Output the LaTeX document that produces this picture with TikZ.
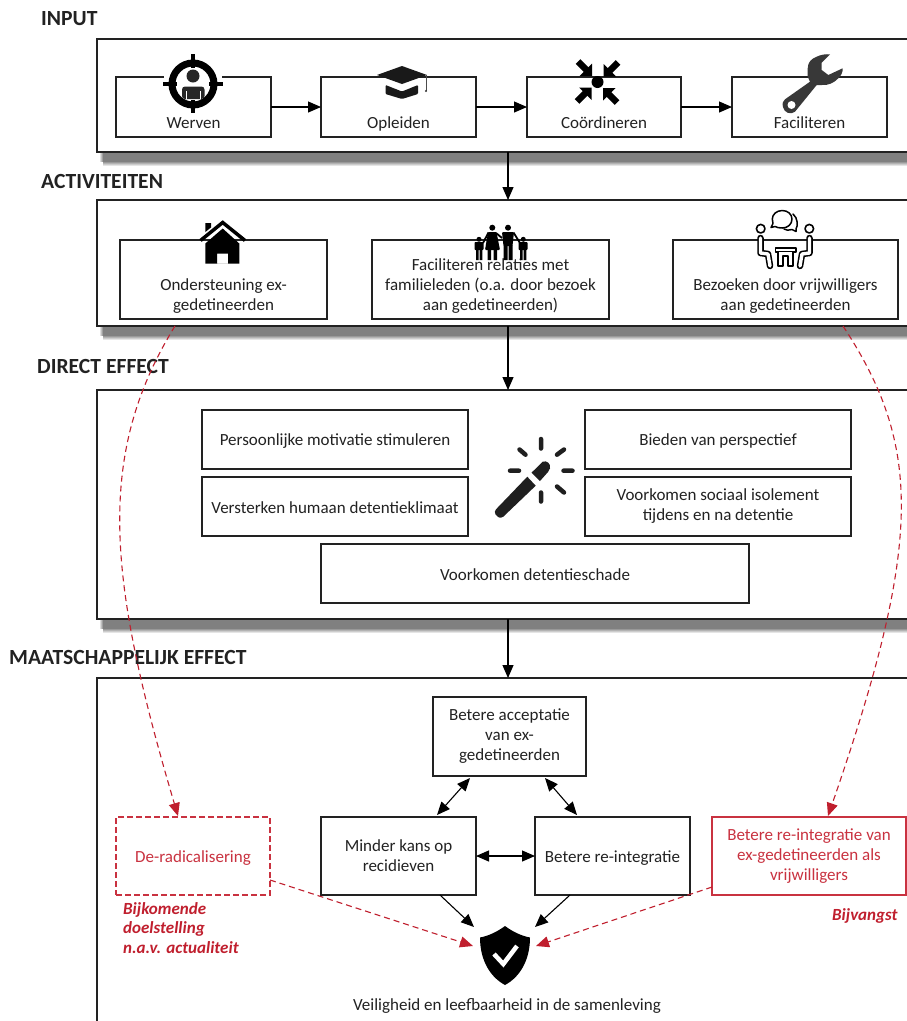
\documentclass[tikz,border=0pt]{standalone}
\usepackage{fontspec}
\setmainfont{Carlito}
\usetikzlibrary{arrows.meta,calc}
\definecolor{ink}{HTML}{222222}
\definecolor{redline}{HTML}{C01F2E}
\definecolor{redtext}{HTML}{C93240}
\definecolor{shadowgray}{HTML}{808080}
\tikzset{
  x=1pt,y=-1pt,
  outerbox/.style={draw=ink,line width=1.2pt,fill=white,anchor=north west,inner sep=0pt,outer sep=0pt},
  flowbox/.style={draw=ink,line width=1.1pt,fill=white,anchor=north west,inner sep=0pt,outer sep=0pt,align=center,text=ink,font=\fontsize{17}{20}\selectfont,execute at begin node={\rule{0pt}{15pt}}},
  redbox/.style={flowbox,draw=redtext,text=redtext},
  title/.style={anchor=west,inner sep=0pt,text=ink,font=\fontsize{21.6}{24}\selectfont\bfseries},
  note/.style={anchor=north west,inner sep=0pt,align=left,text=redline,font=\fontsize{17}{19.7}\selectfont\bfseries\itshape},
  plain/.style={inner sep=0pt,text=ink,font=\fontsize{17}{19.7}\selectfont},
  flow/.style={draw=black,line width=1.1pt,-{Triangle[length=13pt,width=11pt]}},
  biflow/.style={draw=black,line width=1.1pt,{Triangle[length=13pt,width=11pt]}-{Triangle[length=13pt,width=11pt]}},
  redflow/.style={draw=redline,line width=1.1pt,dash pattern=on 6pt off 4pt,-{Triangle[length=13pt,width=11pt]}},
}
\begin{document}
\begin{tikzpicture}
\useasboundingbox (0,0) rectangle (907,1021);
\clip (0,0) rectangle (907,1021);
% shadows
\foreach \y in {153,327,620}{
  \fill[shadowgray] (103,\y) rectangle (920,\y+8);
  \shade[top color=shadowgray,bottom color=white] (103,\y+8) rectangle (920,\y+13);
  \shade[left color=white,right color=shadowgray] (99,\y) rectangle (103,\y+8);
}
% outer boxes
\node[outerbox,minimum width=830pt,minimum height=113pt] (input) at (97,39) {};
\node[outerbox,minimum width=830pt,minimum height=126pt] (act) at (97,200) {};
\node[outerbox,minimum width=830pt,minimum height=229pt] (direct) at (97,390) {};
\node[outerbox,minimum width=830pt,minimum height=380pt] (maat) at (97,678) {};
% titles
\node[title] (t1) at (41,19) {INPUT};
\node[title] (t2) at (41,181) {ACTIVITEITEN};
\node[title] (t3) at (37,366) {DIRECT EFFECT};
\node[title] (t4) at (9,657) {MAATSCHAPPELIJK EFFECT};
% inner boxes
\node[flowbox,minimum width=155pt,minimum height=60pt] (werven) at (116,77) {\rule[-4pt]{0pt}{50pt}Werven};
\node[flowbox,minimum width=155pt,minimum height=60pt] (opleiden) at (321,77) {\rule[-4pt]{0pt}{50pt}Opleiden};
\node[flowbox,minimum width=154pt,minimum height=60pt] (coord) at (527,77) {\rule[-4pt]{0pt}{50pt}Coördineren};
\node[flowbox,minimum width=155pt,minimum height=60pt] (facil) at (732,77) {\rule[-4pt]{0pt}{50pt}Faciliteren};
\node[flowbox,minimum width=207pt,minimum height=79pt] (onder) at (120,240) {\rule{0pt}{44pt}Ondersteuning ex-\\gedetineerden};
\node[flowbox,minimum width=237pt,minimum height=79pt] (fam) at (372,240) {\rule{0pt}{24pt}Faciliteren relaties met\\familieleden (o.a. door bezoek\\aan gedetineerden)};
\node[flowbox,minimum width=225pt,minimum height=79pt] (bez) at (673,240) {\rule{0pt}{44pt}Bezoeken door vrijwilligers\\aan gedetineerden};
\node[flowbox,minimum width=266pt,minimum height=59pt] (pers) at (202,410) {Persoonlijke motivatie stimuleren};
\node[flowbox,minimum width=266pt,minimum height=59pt] (verst) at (202,477) {Versterken humaan detentieklimaat};
\node[flowbox,minimum width=266pt,minimum height=59pt] (persp) at (585,410) {Bieden van perspectief};
\node[flowbox,minimum width=266pt,minimum height=59pt] (isol) at (585,477) {Voorkomen sociaal isolement\\tijdens en na detentie};
\node[flowbox,minimum width=428pt,minimum height=59pt] (schade) at (321,544) {Voorkomen detentieschade};
\node[flowbox,minimum width=153pt,minimum height=79pt] (accept) at (433,697) {Betere acceptatie\\van ex-\\gedetineerden};
\node[flowbox,minimum width=155pt,minimum height=78pt] (recid) at (321,817) {Minder kans op\\recidieven};
\node[flowbox,minimum width=155pt,minimum height=78pt] (reint) at (535,817) {Betere re-integratie};
\node[redbox,minimum width=154pt,minimum height=78pt,dash pattern=on 6pt off 3pt] (derad) at (116,817) {De-radicalisering};
\node[redbox,minimum width=194pt,minimum height=78pt] (vrij) at (712,817) {Betere re-integratie van\\ex-gedetineerden als\\vrijwilligers};
\node[note] (n1) at (123,902) {Bijkomende\\doelstelling\\n.a.v. actualiteit};
\node[note] (n2) at (832,908) {Bijvangst};
\node[plain] (veilig) at (507,1006) {Veiligheid en leefbaarheid in de samenleving};
% connector ends
\coordinate (mid) at (508,0);
\coordinate (r1s) at (175,326);
\coordinate (r1e) at (178,816);
\coordinate (r2s) at (843,326);
\coordinate (r2e) at (828,816);
\coordinate (a1) at (470,778);
\coordinate (a2) at (437,815);
\coordinate (a3) at (545,778);
\coordinate (a4) at (577,815);
\coordinate (s1) at (440,895);
\coordinate (s2) at (474,927);
\coordinate (s3) at (570,895);
\coordinate (s4) at (535,927);
\coordinate (s5) at (270,880);
\coordinate (s6) at (473,946);
\coordinate (s7) at (712,887);
\coordinate (s8) at (536,946);
% connectors
\draw[flow] (werven.east) -- (opleiden.west);
\draw[flow] (opleiden.east) -- (coord.west);
\draw[flow] (coord.east) -- (facil.west);
\draw[flow] (input.south -| mid) -- (act.north -| mid);
\draw[flow] (act.south -| mid) -- (direct.north -| mid);
\draw[flow] (direct.south -| mid) -- (maat.north -| mid);
\draw[biflow] (a1) -- (a2);
\draw[biflow] (a3) -- (a4);
\draw[biflow] (recid.east) -- (reint.west);
\draw[flow] (s1) -- (s2);
\draw[flow] (s3) -- (s4);
\draw[redflow] (r1s) .. controls (95,456) and (108,579) .. (r1e);
\draw[redflow] (r2s) .. controls (922,446) and (923,542) .. (r2e);
\draw[redflow] (s5) -- (s6);
\draw[redflow] (s7) -- (s8);
% target icon
\fill[white] (164,54) rectangle (222,113);
\draw[black,line width=7pt] (193,84) circle (21);
\draw[black,line width=3.5pt] (193,54) -- (193,68) (193,100) -- (193,113) (163,84) -- (177,84) (209,84) -- (223,84);
\fill[black!85] (193,76) circle (6.5);
\fill[black!85,rounded corners=3pt] (182,99) -- (182,86.5) -- (204.5,86.5) -- (204.5,99) -- cycle;
\draw[white,line width=.7pt] (186,91) -- (186,99) (200.5,91) -- (200.5,99);
% cap icon
\fill[black!90] (402,66) -- (427,75) -- (402,84) -- (377,75) -- cycle;
\fill[black!90,rounded corners=1pt] (385.5,85) -- (402,91.5) -- (418,85) -- (418,94) -- (402,99) -- (385.5,94) -- cycle;
\draw[black!70,line width=.7pt] (426,75) -- (426,91);
\fill[black!80] (426,91) circle (1.2);
% coordinate icon
\fill[black] (597.5,82) circle (6);
\foreach \a in {0,90,180,270}{
  \begin{scope}[shift={(597.5,82)},rotate=\a]
    \fill[black] (-5.5,-6) -- (-5.5,-18.5) -- (-18,-6) -- cycle;
    \draw[black,line width=6.5pt] (-10,-11) -- (-19.5,-20.5);
  \end{scope}
}
% wrench icon
\fill[black!78] (807.7,68.3) .. controls (808,62) and (811,59) .. (816.7,56.7)
  .. controls (821,54.5) and (826,54) .. (830,54.3) -- (821.7,62.7) -- (821.7,70) -- (828.3,75) -- (842.7,68.3)
  .. controls (843,72) and (841,76) .. (838.3,78.3) .. controls (834,83) and (828,85.5) .. (822,85)
  -- (816.7,85) -- (795,111.7) .. controls (791,115) and (784,113) .. (783,107) .. controls (782,103) and (783,101) .. (785,99.3)
  -- (810,81.7) -- (807.7,76.7) -- cycle;
\fill[white] (791.5,105) circle (4);
% house icon
\draw[black,line width=3.5pt] (200.5,240.5) -- (222.7,222.5) -- (245,240.5);
\fill[black] (205.3,223) -- (211,223) -- (211,227.5) -- (205.3,232) -- cycle;
\fill[black,even odd rule] (205.3,263.5) -- (205.3,243.5) -- (222.7,228.5) -- (239.3,243.5) -- (239.3,263.5) -- cycle
  (217,253.5) rectangle (228,263.5);
% family icon
\begin{scope}[black]
  \fill (492.3,227.7) circle (3) (508,227.7) circle (3) (479,239.3) circle (2.5) (523.3,239.3) circle (2.5);
  \fill[rounded corners=1pt] (488,232) -- (496.5,232) -- (500,250) -- (485,250) -- cycle;
  \fill (487.5,250) rectangle (491,260) (493.5,250) rectangle (497,260);
  \fill[rounded corners=1pt] (502,232) -- (514,232) -- (512.5,246) -- (503.5,246) -- cycle;
  \fill (503.5,245) rectangle (507.5,260) (508.5,245) rectangle (512.5,260);
  \draw[line width=1.8pt] (488.5,232.5) -- (483,243) (496,233) -- (502,238) (513.5,232.5) -- (520,243);
  \fill[rounded corners=.8pt] (474.5,242) rectangle (483.5,250) (518.5,242) rectangle (527.5,250);
  \fill (476,249) rectangle (478.7,260) (479.6,249) rectangle (482.3,260) (520,249) rectangle (522.7,260) (523.6,249) rectangle (526.3,260);
\end{scope}
% visit icon
\begin{scope}[line join=round,line cap=round]
  \draw[black,line width=1.6pt,fill=white] (760.7,228.7) circle (4.3) (809.3,228.7) circle (4.3);
  \draw[black,line width=6.5pt] (760.5,238) -- (760.5,253) -- (768,254) -- (770,266);
  \draw[white,line width=3.4pt] (760.5,238) -- (760.5,253) -- (768,254) -- (770,266);
  \draw[black,line width=6.5pt] (809.5,238) -- (809.5,253) -- (802,254) -- (800,266);
  \draw[white,line width=3.4pt] (809.5,238) -- (809.5,253) -- (802,254) -- (800,266);
  \draw[black,line width=1.6pt,fill=white] (775.5,248) rectangle (796,252);
  \draw[black,line width=1.6pt,fill=white] (778,252) -- (778,266) -- (783,266) -- (783,256) -- (788,256) -- (788,266) -- (793,266) -- (793,252);
  \draw[black,line width=1.5pt] (793,214) .. controls (798,218) and (798,226) .. (796,229) -- (796,231.5) -- (792,229.5) .. controls (789,230.5) and (786,230.5) .. (784,229);
  \draw[black,line width=1.5pt,fill=white] (782.3,210.5) .. controls (788,210.5) and (792,214.5) .. (792,219) .. controls (792,224) and (788,228) .. (782.3,228) .. controls (779,228) and (777,227.5) .. (775,226.5) -- (771,227.5) -- (773,223.5) .. controls (772.5,222) and (772.3,220.5) .. (772.3,219) .. controls (772.3,214.5) and (776.5,210.5) .. (782.3,210.5) -- cycle;
\end{scope}
% wand icon
\begin{scope}[black!88]
  \draw[line width=4.5pt,line cap=round] (541,439) -- (541,448.5) (541,492.5) -- (541,501.5) (510,470.7) -- (519,470.7) (563.5,470.7) -- (572.5,470.7)
    (519.5,449.5) -- (525.5,454.7) (564,449.5) -- (557,454.7) (557,486.5) -- (564,492.5);
  \fill (531.5,472.7) -- (542.7,461.7) .. controls (547,460) and (551,464) .. (550,468.3) -- (548,472) -- (540,481) -- cycle;
  \fill (527.3,476.7) -- (535.7,485.7) -- (503.3,516.7) .. controls (500,519) and (497,517) .. (495.5,514.5) .. controls (494.5,512.5) and (494.5,510.5) .. (496,509.3) -- cycle;
\end{scope}
% shield icon
\fill[black] (505,926) .. controls (497,932) and (488,936) .. (480,937.5) .. controls (480,960) and (490,977) .. (505,985)
  .. controls (520,977) and (530,960) .. (530,937.5) .. controls (522,936) and (513,932) .. (505,926) -- cycle;
\draw[white,line width=4.5pt] (494,954) -- (503.3,964) -- (517,946);
\end{tikzpicture}
\end{document}
